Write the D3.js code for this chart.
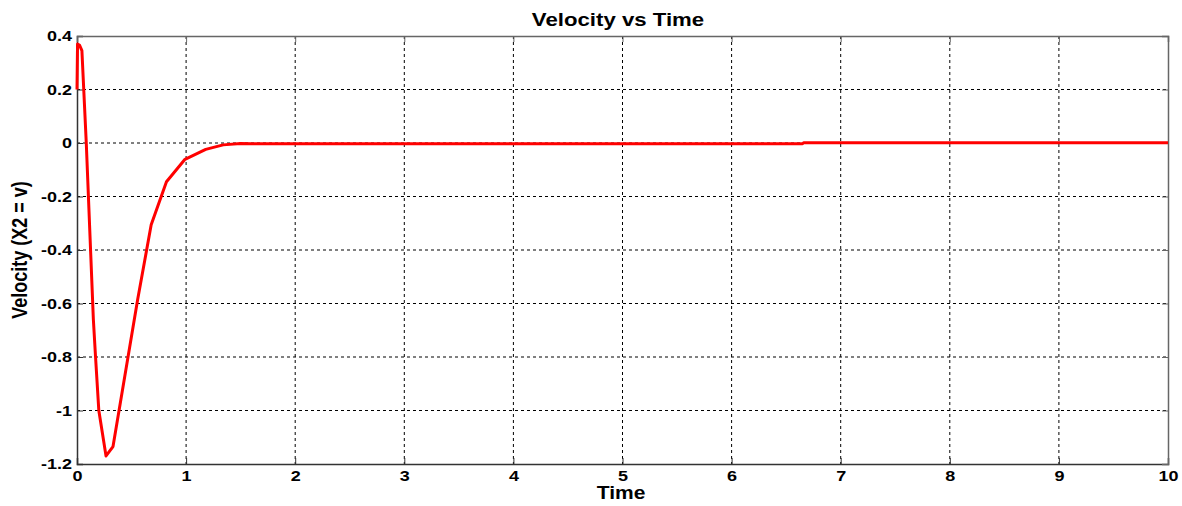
<!DOCTYPE html>
<html>
<head>
<meta charset="utf-8">
<script src="https://cdn.jsdelivr.net/npm/d3@7"></script>
<style>
  body { margin: 0; background: #fff; }
  text { font-family: "Liberation Sans", Arial, sans-serif; font-weight: bold; }
</style>
</head>
<body>
<div id="chart"></div>
<script>
// data
var timeVals = [0, 0.005, 0.024, 0.045, 0.085, 0.15, 0.17, 0.2, 0.266, 0.33, 0.556, 0.68, 0.82, 0.99, 1.18, 1.34, 1.5, 1.6, 6.65, 6.66, 10];
var velocityVals = [0.2, 0.37, 0.365, 0.345, 0, -0.66, -0.8, -1.0, -1.17, -1.135, -0.585, -0.306, -0.145, -0.061, -0.024, -0.007, -0.002, -0.003, -0.003, 0.001, 0.001];
var xTicks = [0, 1, 2, 3, 4, 5, 6, 7, 8, 9, 10];
var yTicks = [0.4, 0.2, 0, -0.2, -0.4, -0.6, -0.8, -1, -1.2];

var svgWidth = 1182;
var svgHeight = 506;
var stretch = 1.2; // the original picture is wider than tall in its glyphs

var margin = { top: 36, right: 14, bottom: 42, left: 77 };
var width = svgWidth - margin.left - margin.right;
var height = svgHeight - margin.top - margin.bottom;

var svg = d3.select("#chart")
  .append("svg")
  .attr("width", svgWidth)
  .attr("height", svgHeight);

var chartGroup = svg.append("g")
  .attr("transform", `translate(${margin.left}, ${margin.top})`);

var xScale = d3.scaleLinear().domain([0, 10]).range([0, width]);
var yScale = d3.scaleLinear().domain([-1.2, 0.4]).range([height, 0]);

// grid
chartGroup.append("g")
  .selectAll("line")
  .data(xTicks.slice(1, -1))
  .enter()
  .append("line")
  .attr("x1", d => xScale(d)).attr("x2", d => xScale(d))
  .attr("y1", 0).attr("y2", height)
  .attr("stroke", "#000")
  .attr("stroke-width", 1)
  .attr("stroke-dasharray", "3,3");

chartGroup.append("g")
  .selectAll("line")
  .data(yTicks.slice(1, -1))
  .enter()
  .append("line")
  .attr("x1", 0).attr("x2", width)
  .attr("y1", d => yScale(d)).attr("y2", d => yScale(d))
  .attr("stroke", "#000")
  .attr("stroke-width", 1)
  .attr("stroke-dasharray", "3,3");

// axes
var bottomAxis = d3.axisBottom(xScale).tickValues(xTicks).tickSize(-6).tickPadding(6).tickFormat(d3.format("d"));
var leftAxis = d3.axisLeft(yScale).tickValues(yTicks).tickSize(-6).tickPadding(5).tickFormat(d => d === 0 ? "0" : String(d));
var topAxis = d3.axisTop(xScale).tickValues(xTicks).tickSize(-6).tickFormat("");
var rightAxis = d3.axisRight(yScale).tickValues(yTicks).tickSize(-6).tickFormat("");

var xAxisG = chartGroup.append("g")
  .attr("transform", `translate(0, ${height})`)
  .call(bottomAxis);
var yAxisG = chartGroup.append("g").call(leftAxis);
var tAxisG = chartGroup.append("g").call(topAxis);
var rAxisG = chartGroup.append("g").attr("transform", `translate(${width}, 0)`).call(rightAxis);

[xAxisG, yAxisG].forEach(function(g) {
  g.selectAll("text")
    .style("font-size", "15px")
    .attr("fill", "#000")
    .attr("x", function() { return +d3.select(this).attr("x") / stretch; })
    .attr("transform", `scale(${stretch},1)`);
  g.select(".domain").attr("stroke", "#333").attr("stroke-width", 1.5);
  g.selectAll(".tick line").attr("stroke", "#333");
});
[tAxisG, rAxisG].forEach(function(g) {
  g.select(".domain").attr("stroke", "#666").attr("stroke-width", 1.5);
  g.selectAll(".tick line").attr("stroke", "#666");
});

// line
var line = d3.line()
  .x((d, i) => xScale(timeVals[i]))
  .y(d => yScale(d));

chartGroup.append("path")
  .datum(velocityVals)
  .attr("d", line)
  .attr("fill", "none")
  .attr("stroke", "#ff0000")
  .attr("stroke-width", 3)
  .attr("stroke-linejoin", "round");

// labels
svg.append("text")
  .attr("transform", `translate(618, 26) scale(${stretch},1)`)
  .attr("text-anchor", "middle")
  .style("font-size", "18.5px")
  .text("Velocity vs Time");

svg.append("text")
  .attr("transform", `translate(621, 499) scale(${stretch},1)`)
  .attr("text-anchor", "middle")
  .style("font-size", "17.5px")
  .text("Time");

svg.append("text")
  .attr("transform", `translate(27, ${margin.top + height / 2}) rotate(-90) scale(1,${stretch})`)
  .attr("text-anchor", "middle")
  .style("font-size", "18px")
  .text("Velocity (X2 = v)");
</script>
</body>
</html>
